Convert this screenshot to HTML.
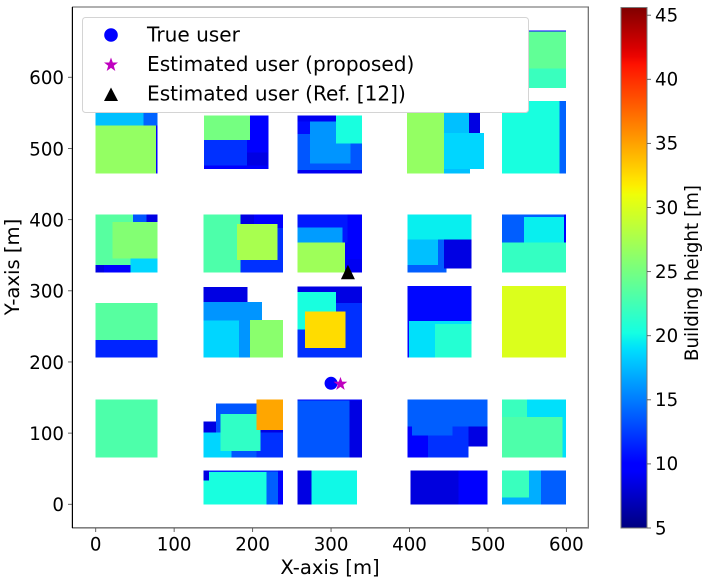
<!DOCTYPE html>
<html lang="en">
<head>
<meta charset="utf-8">
<title>Building height map</title>
<style>
html,body{margin:0;padding:0;background:#fff;width:706px;height:583px;overflow:hidden}
svg{display:block;font-family:"DejaVu Sans","Liberation Sans",sans-serif;fill:#000}
.tick-label{font-size:18.2px}
.axis-title{font-size:19.6px}
.legend-text{font-size:20.1px}
</style>
</head>
<body>
<svg id="chart" width="706" height="583" viewBox="0 0 706 583" xmlns="http://www.w3.org/2000/svg">
  <defs>
    <linearGradient id="jet-gradient" x1="0" y1="1" x2="0" y2="0"></linearGradient>
  </defs>
  <g id="buildings" shape-rendering="crispEdges"></g>
  <g id="users"></g>
  <g id="axes"></g>
  <text class="axis-title" x="330" y="567.5" text-anchor="middle" dominant-baseline="central">X-axis [m]</text>
  <text class="axis-title" x="12.5" y="267" text-anchor="middle" dominant-baseline="central" transform="rotate(-90 12.5 267)">Y-axis [m]</text>
  <g>
    <rect x="82.5" y="17.5" width="446" height="95" rx="3" fill="#fff" stroke="#d4d4d4" stroke-width="1"/>
    <circle cx="111" cy="35" r="6.8" fill="#0000ff"/>
    <polygon points="111,57.5 112.8,62.5 118,62.5 113.8,65.8 115.3,71 111,67.9 106.7,71 108.2,65.8 104,62.5 109.2,62.5" fill="#bf00bf"/>
    <polygon points="111,87.5 118,101 104,101" fill="#000"/>
    <text class="legend-text" x="147" y="34.5" dominant-baseline="central">True user</text>
    <text class="legend-text" x="147" y="64" dominant-baseline="central">Estimated user (proposed)</text>
    <text class="legend-text" x="147" y="93.5" dominant-baseline="central">Estimated user (Ref. [12])</text>
  </g>
  <g id="colorbar"></g>
  <text class="axis-title" x="692.5" y="273" text-anchor="middle" dominant-baseline="central" transform="rotate(-90 692.5 273)" style="font-size:18.3px">Building height [m]</text>
</svg>
<script>
// Building footprints in metres; each line is one city block, painted in order.
const rectX0 = [
  0,61,0,0,
  138,193,138,138,
  257,257,257,273,306,
  397,444,476,444,444,
  518,518,518,518,591,
  0,47.5,65,0,0,21.6,44.5,
  137.6,184.7,184.7,202,180,
  257,320.8,257,257,257,
  397.3,397.3,397.3,444,
  518,597,546,518,
  0,0,
  137.6,137.6,137.6,137.6,196.6,
  257,306,257,257,266.7,
  397.3,399.4,432.5,
  518,
  0,
  153.3,137.6,137.6,205,205,158.8,205,
  257,323.7,257,
  397.3,397.3,397.3,397.3,403.2,475,
  549.8,518,518,
  137.6,137.6,217.9,232.3,137.6,
  257,275.2,
  401,462.3,
  518,567.7,518
];
const rectX1 = [
  79,79,61,77,
  220,219,193,197,
  339.5,339.5,306,325,339.5,
  444,476,490,477,495,
  599.5,599.5,599.5,591,599.5,
  47.5,65,78.5,44.5,10.5,78.5,78.5,
  184.7,238.7,202,238.7,231.5,
  339.5,339.5,320.8,314.4,317.8,
  479.3,447.4,436.4,479.3,
  599.5,599.5,597,599.5,
  78.5,78.5,
  193.2,212,196.6,182.6,238.7,
  339.5,339.5,306,306,318.2,
  479.3,479.3,479.3,
  599.5,
  78.5,
  205,172.9,153.3,238.7,238.7,209.8,238.7,
  323.7,339.5,339.5,
  499.3,475,423.6,403.2,454.6,499.3,
  599.5,549.8,594.9,
  238.7,217.9,232.3,238.7,144.4,
  275.2,333.1,
  462.3,499.3,
  567.7,599.5,552.4
];
const rectY0 = [
  465,532,532,465,
  471,476,476,512,
  465,470,520,479,507,
  465,522,522,465,471,
  664,612,585,465,465,
  336,397,397,325.5,325.5,345.6,325.5,
  325.5,325.5,394,388,343,
  325.5,325.5,367.6,367.6,325.5,
  372,325.5,336,331,
  367.6,367.6,367.6,325.5,
  231,206,
  284,258,206,206,206,
  206,283,298,245.8,219.6,
  206,206,206,
  206,
  66,
  66,66,101,66,100.7,74.9,104.4,
  66,66,145.7,
  109,66,66,96.9,96.9,81.5,
  66,122.7,66,
  45.5,-0.5,-0.5,-0.5,33.7,
  -0.5,-0.5,
  -0.5,-0.5,
  -0.5,-0.5,9.8
];
const rectY1 = [
  570,570,570,532,
  546,494,512,546,
  546,520,538,538,546,
  570,570,570,471,522,
  666,664,612,567,567,
  407,407,407,336,336,397,345.6,
  407,407,407,407,394,
  407,345,407,388.7,367.6,
  407,372,372,372,
  407,407,404,367.6,
  282.8,231,
  305.3,284,258,258,259,
  305,305.8,305.8,298,270.7,
  306.7,257.5,253,
  306.7,
  147.5,
  141.4,101,116.6,104.4,104.4,126.9,147.5,
  147.5,147.5,147.5,
  147.5,109,96.9,109,109,109,
  147.5,147.5,122.7,
  47.7,45.5,45.5,47.7,47.7,
  47.7,47.7,
  47.7,47.7,
  47.7,47.7,47.7
];
const rectHeight = [
  9.7,14,17.7,26.5,
  9.7,8.5,12,25,
  9,13.5,10.5,16,20.4,
  26.5,17.7,8.5,17.7,18.6,
  10,24,22,20.4,14,
  23.5,13.5,8.5,9.7,8.5,25.7,18.6,
  23,12,8.5,9.7,27.5,
  9.7,9,11,16.3,27,
  19.6,13.8,17.7,8.5,
  13.8,10,19.6,21.8,
  23.5,11.5,
  8.5,16,16,18.6,26,
  12,8.5,8.5,20.4,32.5,
  10.3,19,21,
  30,
  23,
  13.5,18.6,8.5,12,8.5,21.6,34.8,
  13.5,8.5,10,
  13.8,12,9.7,9.7,13.8,8.5,
  19,22,23,
  12,20.4,13.8,9.5,8.5,
  8.5,20,
  8.3,9.5,
  17,13.8,22
];
const trueUser = [300, 170];
const proposedEstimate = [312, 169];
const referenceEstimate = [321.5, 326];
const xTicks = [0,100,200,300,400,500,600];
const yTicks = [0,100,200,300,400,500,600];
const colorTicks = [5,10,15,20,25,30,35,40,45];
const colorRange = [5, 45.6];

const NS = 'http://www.w3.org/2000/svg';
function xPos(v){ return 95.7 + 0.7845 * v; }
function yPos(v){ return 504.3 - 0.7117 * v; }
function cPos(v){ return 528 - (v - 5) * 12.82; }
function lerpTable(t, table){
  for (let i = 1; i < table.length; i++) {
    if (t <= table[i][0]) {
      const a = table[i-1], b = table[i];
      return a[1] + (b[1] - a[1]) * (t - a[0]) / (b[0] - a[0]);
    }
  }
  return table[table.length-1][1];
}
function jet(t){
  const r = lerpTable(t, [[0,0],[0.35,0],[0.66,1],[0.89,1],[1,0.5]]);
  const g = lerpTable(t, [[0,0],[0.125,0],[0.375,1],[0.64,1],[0.91,0],[1,0]]);
  const b = lerpTable(t, [[0,0.5],[0.11,1],[0.34,1],[0.65,0],[1,0]]);
  return 'rgb(' + Math.round(r*255) + ',' + Math.round(g*255) + ',' + Math.round(b*255) + ')';
}
function heightColor(h){ return jet((h - colorRange[0]) / (colorRange[1] - colorRange[0])); }
function make(tag, attrs, parent){
  const el = document.createElementNS(NS, tag);
  for (const k in attrs) el.setAttribute(k, attrs[k]);
  parent.appendChild(el);
  return el;
}

const buildingLayer = document.getElementById('buildings');
rectHeight.forEach(function(h, i){
  const el = make('rect', {
    x: xPos(rectX0[i]),
    y: yPos(rectY1[i]),
    width: xPos(rectX1[i]) - xPos(rectX0[i]),
    height: yPos(rectY0[i]) - yPos(rectY1[i]),
    fill: heightColor(h)
  }, buildingLayer);
  
  
});

const userLayer = document.getElementById('users');
const trueMark = make('circle', {cx: xPos(trueUser[0]), cy: yPos(trueUser[1]), r: 6.5, fill: '#0000ff'}, userLayer);



const starPoints = [];
for (let i = 0; i < 10; i++) {
  const radius = i % 2 ? 2.9 : 7.2;
  const angle = -Math.PI / 2 + i * Math.PI / 5;
  starPoints.push((xPos(proposedEstimate[0]) + radius * Math.cos(angle)) + ',' + (yPos(proposedEstimate[1]) + radius * Math.sin(angle)));
}
const starMark = make('polygon', {points: starPoints.join(' '), fill: '#bf00bf'}, userLayer);



const rx = xPos(referenceEstimate[0]), ry = yPos(referenceEstimate[1]);
const triMark = make('polygon', {points: rx + ',' + (ry - 7.5) + ' ' + (rx + 7) + ',' + (ry + 7) + ' ' + (rx - 7) + ',' + (ry + 7), fill: '#000'}, userLayer);



const axes = document.getElementById('axes');
const spineTop = make('line', {x1: 72, x2: 589, y1: 7, y2: 7, stroke: '#808080', 'stroke-width': 1.2}, axes);


const spineRight = make('line', {x1: 588.3, x2: 588.3, y1: 7, y2: 528, stroke: '#666', 'stroke-width': 1.2}, axes);


const spineBottom = make('line', {x1: 72, x2: 589, y1: 527.8, y2: 527.8, stroke: '#808080', 'stroke-width': 1.6}, axes);


const spineLeft = make('line', {x1: 72.4, x2: 72.4, y1: 7, y2: 528, stroke: '#000', 'stroke-width': 1.2}, axes);



xTicks.forEach(function(v){
  const mark = make('line', {x1: xPos(v), x2: xPos(v), y1: 528, y2: 532, stroke: '#555', 'stroke-width': 0.9}, axes);
  
  
  const label = make('text', {x: xPos(v), y: 545, 'text-anchor': 'middle', 'dominant-baseline': 'central', class: 'tick-label'}, axes);
  
  
  label.textContent = v;
});
yTicks.forEach(function(v){
  const mark = make('line', {x1: 68, x2: 72, y1: yPos(v), y2: yPos(v), stroke: '#555', 'stroke-width': 0.9}, axes);
  
  
  const label = make('text', {x: 64, y: yPos(v) + 1.3, 'text-anchor': 'end', 'dominant-baseline': 'central', class: 'tick-label'}, axes);
  
  
  label.textContent = v;
});

const gradient = document.getElementById('jet-gradient');
for (let i = 0; i <= 64; i++) {
  make('stop', {offset: (i / 64 * 100) + '%', 'stop-color': jet(i / 64)}, gradient);
}
const colorbar = document.getElementById('colorbar');
const colorRamp = make('rect', {x: 621, y: cPos(colorRange[1]), width: 26, height: cPos(colorRange[0]) - cPos(colorRange[1]), fill: 'url(#jet-gradient)', stroke: '#777', 'stroke-width': 1}, colorbar);


colorTicks.forEach(function(v){
  const mark = make('line', {x1: 647, x2: 651, y1: cPos(v), y2: cPos(v), stroke: '#555', 'stroke-width': 0.9}, colorbar);
  
  
  const label = make('text', {x: 655, y: cPos(v) + 0.8, 'dominant-baseline': 'central', class: 'tick-label'}, colorbar);
  
  
  label.textContent = v;
});
</script>
</body>
</html>
